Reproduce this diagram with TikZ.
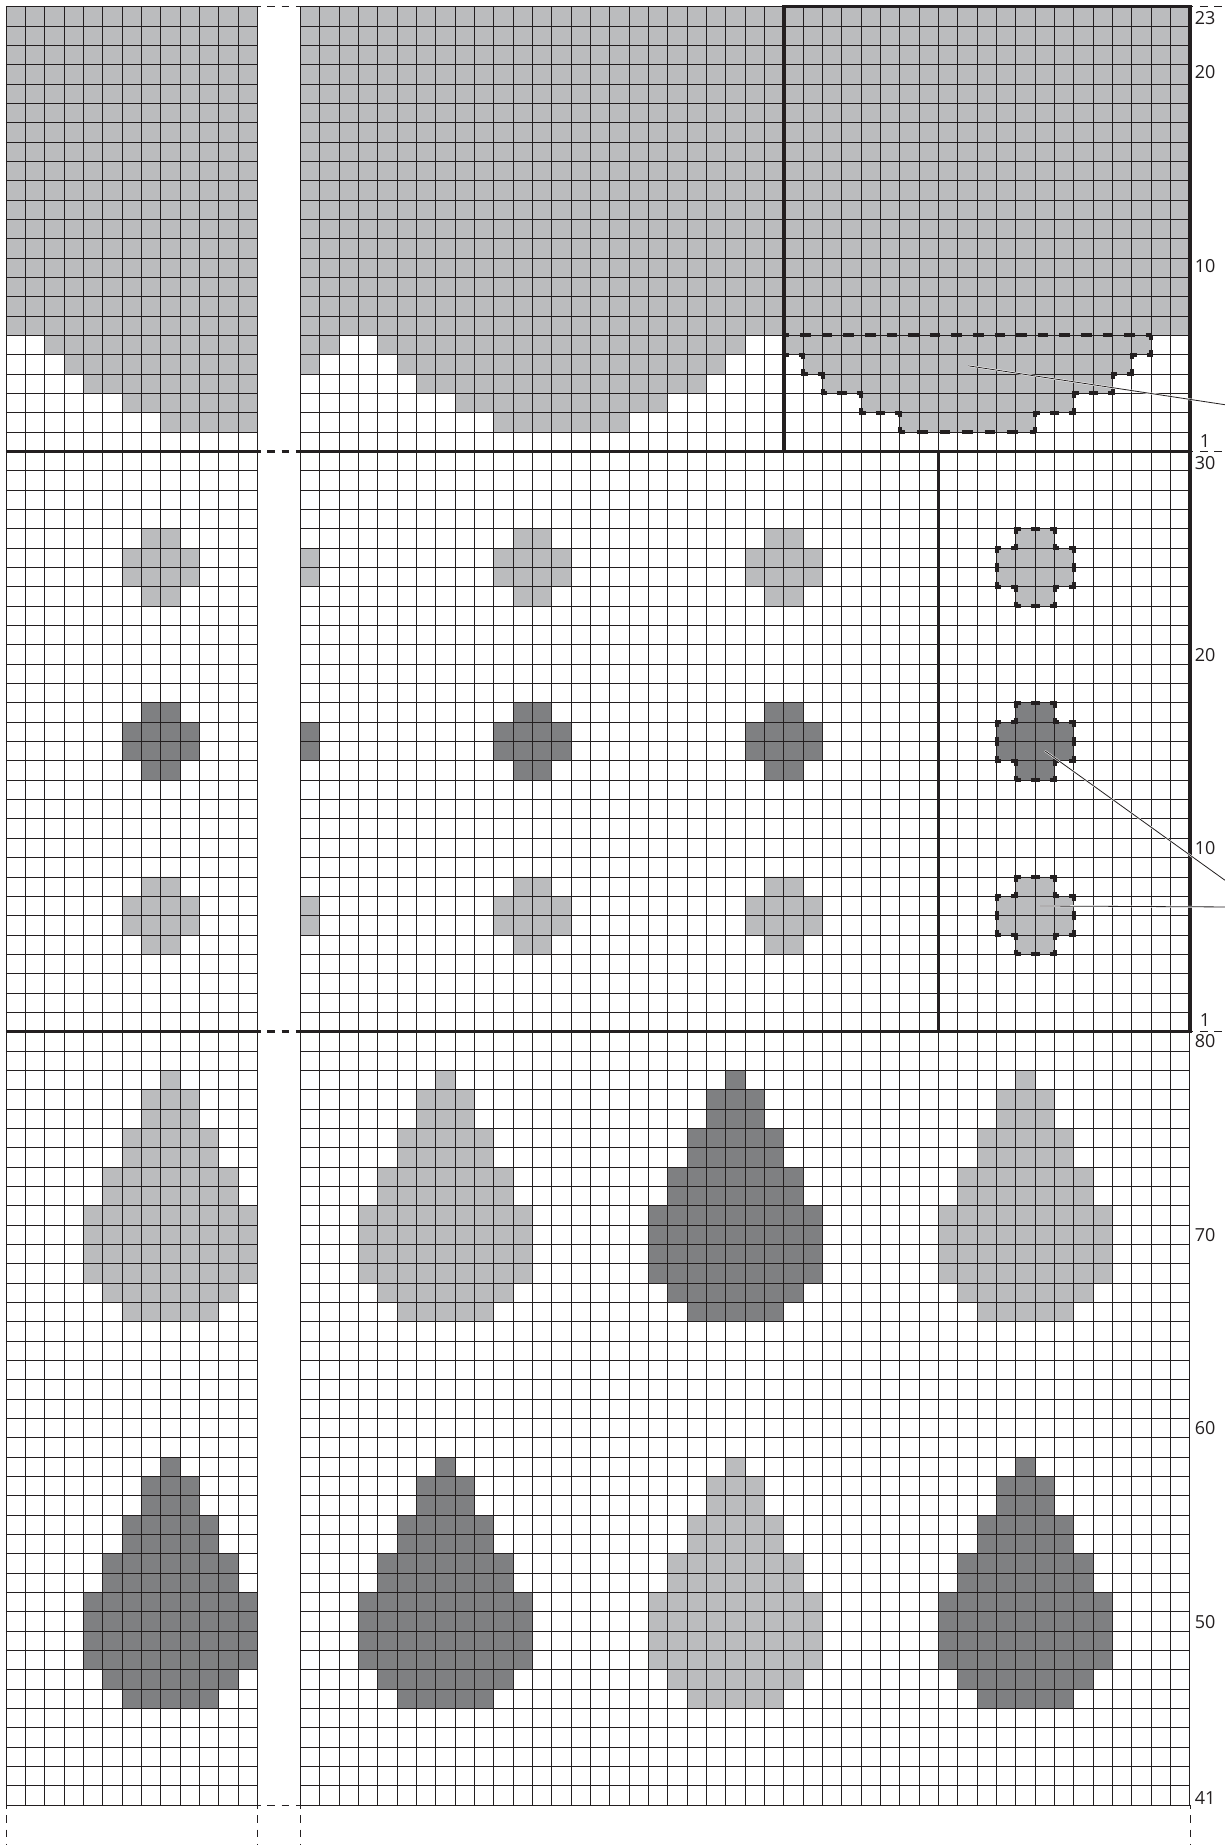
\documentclass[tikz,border=0pt]{standalone}
\usepackage{fontspec}
\setmainfont{Open Sans}
\begin{document}
\begin{tikzpicture}[x=14.505pt, y=14.505pt, line join=miter,
    gridline/.style={line width=0.72pt, draw=inkblack},
    thickline/.style={line width=2.6pt, draw=inkblack},
    bandline/.style={line width=2pt, draw=inkblack},
    gapdash/.style={line width=0.72pt, draw=inkblack, dash pattern=on 5.7pt off 5pt, dash phase=3.2pt},
    gapdashheavy/.style={gapdash, line width=2pt},
    outline/.style={line width=3pt, draw=inkblack, dash pattern=on 7pt off 7.505pt, dash phase=3.5pt},
    outlinelong/.style={outline, dash pattern=on 8pt off 8.2pt, dash phase=4pt},
    outlinebase/.style={outline, dash pattern=on 8pt off 8.92pt, dash phase=4pt},
    leaderhalo/.style={line width=1.4pt, white},
    leader/.style={line width=0.6pt, inkblack},
    rowlabel/.style={font=\fontsize{13.5pt}{13.5pt}\selectfont, text=inkblack, inner sep=0pt}]
  \definecolor{inkblack}{HTML}{231F20}
  \definecolor{lightshade}{HTML}{BBBCBE}
  \definecolor{darkshade}{HTML}{7F8082}
  \useasboundingbox (-0.3102,-2.053) rectangle (63.03,93.347);
  % --- left panel: solid top ---
  \fill[lightshade] (0,76) rectangle (13,93);
  \foreach \xs/\ys in {2/75,3/74,4/73,6/72,8/71}
    \fill[lightshade] (\xs,\ys) rectangle (13,\ys+1);
  % --- left panel: crosses ---
  \foreach \yb/\col in {62/lightshade,53/darkshade,44/lightshade}
    \fill[\col] (7,\yb) -- ++(2,0) -- ++(0,1) -- ++(1,0) -- ++(0,2) -- ++(-1,0) -- ++(0,1)
      -- ++(-2,0) -- ++(0,-1) -- ++(-1,0) -- ++(0,-2) -- ++(1,0) -- cycle;
  % --- left panel: drops ---
  \foreach \yb/\col in {25/lightshade,5/darkshade}
    \fill[\col] (6,\yb) -- ++(5,0) -- ++(0,1) -- ++(1,0) -- ++(0,1) -- ++(1,0) -- ++(0,4)
      -- ++(-1,0) -- ++(0,2) -- ++(-1,0) -- ++(0,2) -- ++(-1,0) -- ++(0,2) -- ++(-1,0) -- ++(0,1)
      -- ++(-1,0) -- ++(0,-1) -- ++(-1,0) -- ++(0,-2) -- ++(-1,0) -- ++(0,-2) -- ++(-1,0) -- ++(0,-2)
      -- ++(-1,0) -- ++(0,-4) -- ++(1,0) -- ++(0,-1) -- ++(1,0) -- cycle;
  \draw[gridline] (0,0) grid[step=1] (13,93);
  % --- right panel ---
  \begin{scope}[shift={(15.22,0)}]
    \fill[lightshade] (0,76) rectangle (46,93);
    \fill[lightshade] (0,75) rectangle (2,76);
    \fill[lightshade] (0,74) rectangle (1,75);
    \foreach \xs/\xe/\ys in {4/23/75,5/22/74,6/21/73,8/19/72,10/17/71,25/44/75,26/43/74,27/42/73,29/40/72,31/38/71}
      \fill[lightshade] (\xs,\ys) rectangle (\xe,\ys+1);
    % --- crosses ---
    \foreach \yb/\col in {62/lightshade,53/darkshade,44/lightshade} {
      \fill[\col] (0,\yb+1) rectangle (1,\yb+3);
      \foreach \xb in {10,23,36}
        \fill[\col] (\xb+1,\yb) -- ++(2,0) -- ++(0,1) -- ++(1,0) -- ++(0,2) -- ++(-1,0) -- ++(0,1)
          -- ++(-2,0) -- ++(0,-1) -- ++(-1,0) -- ++(0,-2) -- ++(1,0) -- cycle;
    }
    % --- drops ---
    \foreach \xb/\yb/\col in {3/25/lightshade,18/25/darkshade,33/25/lightshade,
                              3/5/darkshade,18/5/lightshade,33/5/darkshade}
      \fill[\col] (\xb+2,\yb) -- ++(5,0) -- ++(0,1) -- ++(1,0) -- ++(0,1) -- ++(1,0) -- ++(0,4)
        -- ++(-1,0) -- ++(0,2) -- ++(-1,0) -- ++(0,2) -- ++(-1,0) -- ++(0,2) -- ++(-1,0) -- ++(0,1)
        -- ++(-1,0) -- ++(0,-1) -- ++(-1,0) -- ++(0,-2) -- ++(-1,0) -- ++(0,-2) -- ++(-1,0) -- ++(0,-2)
        -- ++(-1,0) -- ++(0,-4) -- ++(1,0) -- ++(0,-1) -- ++(1,0) -- cycle;
    \draw[gridline] (0,0) grid[step=1] (46,93);
    % --- dashed outlines ---
    \draw[outlinelong] (25,76) -- (44,76);
    \draw[outlinebase] (31,71) -- (38,71);
    \draw[outline] (44,76) -- (44,75) -- (43,75) -- (43,74) -- (42,74) -- (42,73)
      -- (40,73) -- (40,72) -- (38,72) -- (38,71);
    \draw[outline] (31,71) -- (31,72) -- (29,72) -- (29,73)
      -- (27,73) -- (27,74) -- (26,74) -- (26,75) -- (25,75) -- (25,76);
    \foreach \yb in {62,53,44}
      \draw[outline] (37,\yb) -- ++(2,0) -- ++(0,1) -- ++(1,0) -- ++(0,2) -- ++(-1,0) -- ++(0,1)
        -- ++(-2,0) -- ++(0,-1) -- ++(-1,0) -- ++(0,-2) -- ++(1,0) -- cycle;
    % --- frames ---
    \draw[thickline] (25,70) rectangle (46,93);
    \draw[thickline] (33,40) rectangle (46,70);
  \end{scope}
  % --- band lines ---
  \draw[bandline] (0,70) -- (13,70);
  \draw[bandline] (15.22,70) -- (61.22,70);
  \draw[bandline] (0,40) -- (13,40);
  \draw[bandline] (15.22,40) -- (61.22,40);
  % --- dashes in the gap ---
  \foreach \yb in {93,0}
    \draw[gapdash] (13,\yb) -- (15.22,\yb);
  \foreach \yb in {70,40}
    \draw[gapdashheavy] (13,\yb) -- (15.22,\yb);
  \foreach \yb in {93,70,40}
    \draw[gapdash] (61.22,\yb) -- (63.03,\yb);
  \foreach \xb in {0,13,15.22,61.22}
    \draw[gapdash] (\xb,0) -- (\xb,-2.053);
  % --- leaders ---
  \coordinate (leadA) at (49.76,74.43);
  \coordinate (leadAend) at (63.03,72.42);
  \coordinate (leadB) at (53.72,54.52);
  \coordinate (leadBend) at (63.03,47.83);
  \coordinate (leadC) at (53.46,46.5);
  \coordinate (leadCend) at (63.03,46.45);
  \foreach \from/\to in {leadA/leadAend,leadB/leadBend,leadC/leadCend} {
    \draw[leaderhalo] (\from) -- (\to);
    \draw[leader] (\from) -- (\to);
  }
  % --- row numbers ---
  \foreach \lab/\yb in {23/92.4,20/89.6,10/79.6,1/70.55}
    \node[rowlabel] (top\lab) at (62,\yb) {\lab};
  \foreach \lab/\yb in {30/69.4,20/59.5,10/49.5,1/40.6}
    \node[rowlabel] (mid\lab) at (62,\yb) {\lab};
  \foreach \lab/\yb in {80/39.5,70/29.5,60/19.5,50/9.5,41/0.4}
    \node[rowlabel] (low\lab) at (62,\yb) {\lab};
\end{tikzpicture}
\end{document}
